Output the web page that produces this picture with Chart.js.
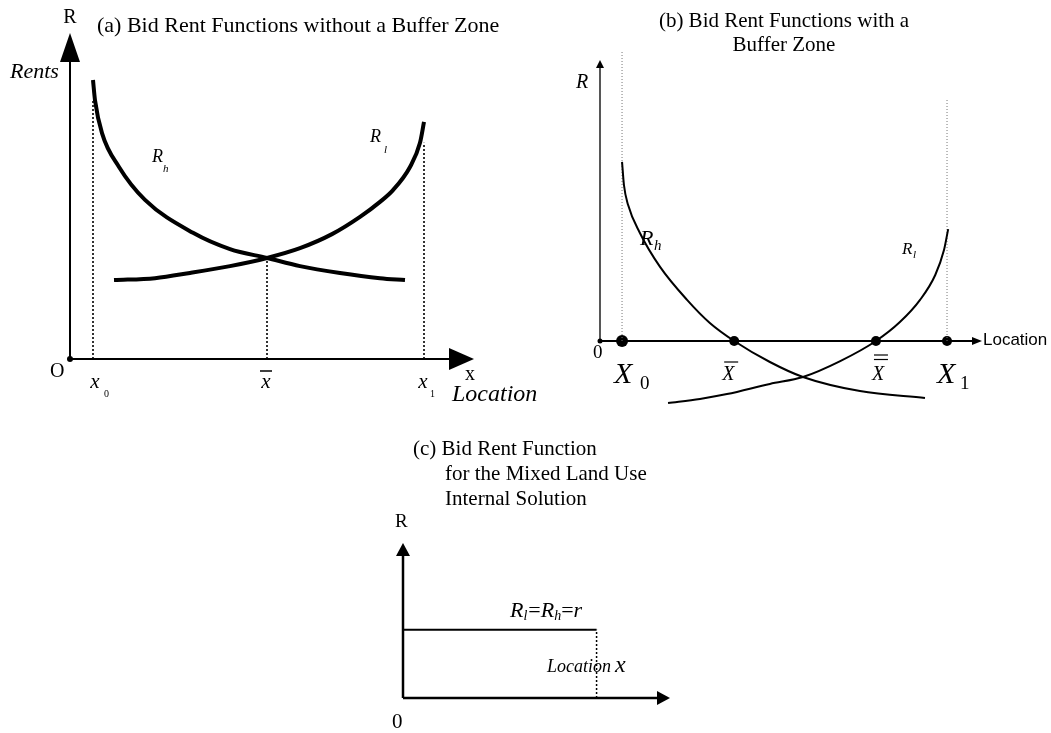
<!DOCTYPE html>
<html>
<head>
<meta charset="utf-8">
<script src="https://cdn.jsdelivr.net/npm/chart.js@4/dist/chart.umd.min.js"></script>
<style>
  body { margin: 0; background: #fff; }
  canvas { position: absolute; left: 0; top: 0; }
</style>
</head>
<body>
<canvas id="panelA" width="1051" height="733"></canvas>
<canvas id="panelB" width="1051" height="733"></canvas>
<canvas id="panelC" width="1051" height="733"></canvas>
<script>
// (a) no buffer zone: location 0..101, rent 0..100
const rhA_x = [5.75, 6.25, 8.0, 12.25, 18.75, 30.75, 40.0, 49.25, 57.5, 67.5, 77.5, 83.75];
const rhA_y = [85.6, 79.4, 69.3, 58.9, 48.8, 38.7, 33.7, 31.0, 28.5, 26.4, 24.8, 24.2];
const rlA_x = [11.0, 21.25, 30.0, 40.0, 49.25, 57.5, 65.5, 72.5, 77.5, 80.75, 85.0, 87.5, 88.5];
const rlA_y = [24.2, 24.8, 26.4, 28.5, 31.0, 34.0, 38.3, 43.6, 48.2, 51.8, 58.9, 66.3, 72.7];
const guideA_x = [5.75, 49.25, 88.5];
const guideA_top = [79.4, 31.0, 66.3];

// (b) with a buffer zone: rents drop below the axis past the crossings
const rhB_x = [5.8, 6.3, 7.4, 10.5, 15.8, 22.9, 28.9, 35.3, 44.7, 53.4, 68.4, 85.5];
const rhB_y = [59.7, 52, 45.3, 36, 24.7, 13.7, 6, 0, -7, -12, -16.7, -19];
const rlB_x = [17.9, 26.3, 33.4, 44.7, 53.4, 63.2, 72.6, 78.9, 84.2, 88.2, 90.5, 91.6];
const rlB_y = [-20.7, -19.3, -17.7, -14.3, -12, -6.7, 0, 6.3, 13.7, 22, 30.3, 37.3];
const markB_x = [0, 5.8, 35.3, 72.6, 91.3];
const guideB_x = [5.8, 91.3];
const guideB_top = [97, 81];

// (c) mixed land use: flat rent r
const rentC = 44;
const edgeC = 72.5;

const SERIF = '"Liberation Serif", "Times New Roman", serif';
const SANS = '"Liberation Sans", Arial, sans-serif';

const pts = (xs, ys) => xs.map((x, i) => ({ x: x, y: ys[i] }));

function curve(data, w) {
  return { data: data, showLine: true, borderColor: '#000', borderWidth: w,
           pointRadius: 0, cubicInterpolationMode: 'monotone', clip: false };
}

function guide(x, top, color, w, dash) {
  return { data: [{ x: x, y: 0 }, { x: x, y: top }], showLine: true, borderColor: color,
           borderWidth: w, borderDash: dash, pointRadius: 0, clip: false };
}

function txt(ctx, s, x, y, font, align) {
  ctx.font = font;
  ctx.textAlign = align || 'left';
  ctx.textBaseline = 'alphabetic';
  ctx.fillStyle = '#000';
  ctx.fillText(s, x, y);
  return ctx.measureText(s).width;
}

function line(ctx, x1, y1, x2, y2, w, color) {
  ctx.beginPath();
  ctx.moveTo(x1, y1);
  ctx.lineTo(x2, y2);
  ctx.lineWidth = w;
  ctx.strokeStyle = color || '#000';
  ctx.stroke();
}

// filled triangle head pointing from (x1,y1) to tip (x2,y2)
function arrowHead(ctx, x1, y1, x2, y2, len, half) {
  const a = Math.atan2(y2 - y1, x2 - x1);
  const bx = x2 - len * Math.cos(a), by = y2 - len * Math.sin(a);
  ctx.beginPath();
  ctx.moveTo(x2, y2);
  ctx.lineTo(bx + half * Math.sin(a), by - half * Math.cos(a));
  ctx.lineTo(bx - half * Math.sin(a), by + half * Math.cos(a));
  ctx.closePath();
  ctx.fillStyle = '#000';
  ctx.fill();
}

function makeChart(id, pad, xr, yr, datasets, axes, labels) {
  return new Chart(document.getElementById(id), {
    type: 'scatter',
    data: { datasets: datasets },
    options: {
      responsive: false,
      animation: false,
      events: [],
      layout: { padding: pad },
      plugins: { legend: { display: false }, tooltip: { enabled: false } },
      scales: {
        x: { type: 'linear', min: xr[0], max: xr[1], display: false },
        y: { type: 'linear', min: yr[0], max: yr[1], display: false }
      }
    },
    plugins: [{
      id: id + 'Deco',
      beforeDatasetsDraw(chart) { axes(chart.ctx, chart.scales.x, chart.scales.y); },
      afterDatasetsDraw(chart) { labels(chart.ctx, chart.scales.x, chart.scales.y); }
    }]
  });
}

// ---------- (a) ----------
makeChart('panelA', { left: 70, right: 577, top: 33, bottom: 374 }, [0, 101], [0, 100],
  [
    curve(pts(rhA_x, rhA_y), 4),
    curve(pts(rlA_x, rlA_y), 4),
    ...guideA_x.map((x, i) => guide(x, guideA_top[i], '#000', 1.6, [2, 2]))
  ],
  (ctx, X, Y) => {
    const ox = X.getPixelForValue(0), oy = Y.getPixelForValue(0);
    const tipY = Y.getPixelForValue(100), tipX = X.getPixelForValue(101);
    line(ctx, ox, oy, ox, tipY + 20, 2);
    line(ctx, ox, oy, tipX - 20, oy, 2);
    arrowHead(ctx, ox, oy, ox, tipY, 29, 10);
    arrowHead(ctx, ox, oy, tipX, oy, 25, 11);
    ctx.beginPath(); ctx.arc(ox, oy, 3, 0, Math.PI * 2); ctx.fillStyle = '#000'; ctx.fill();
  },
  (ctx, X, Y) => {
    txt(ctx, 'R', 70, 23, '20px ' + SERIF, 'center');
    txt(ctx, '(a) Bid Rent Functions without a Buffer Zone', 97, 32, '22px ' + SERIF);
    txt(ctx, 'Rents', 10, 78, 'italic 22px ' + SERIF);
    txt(ctx, 'R', 152, 162, 'italic 18px ' + SERIF);
    txt(ctx, 'h', 163, 172, 'italic 11px ' + SERIF);
    txt(ctx, 'R', 370, 142, 'italic 18px ' + SERIF);
    txt(ctx, 'l', 384, 153, 'italic 11px ' + SERIF);
    txt(ctx, 'O', 50, 377, '20px ' + SERIF);
    const g = guideA_x.map(v => X.getPixelForValue(v));
    txt(ctx, 'x', g[0] + 2, 388, 'italic 21px ' + SERIF, 'center');
    txt(ctx, '0', g[0] + 11, 397, '10px ' + SERIF);
    txt(ctx, 'x', g[1] - 1, 388, 'italic 21px ' + SERIF, 'center');
    line(ctx, g[1] - 7, 371, g[1] + 5, 371, 1.5);
    txt(ctx, 'x', g[2] - 1, 388, 'italic 21px ' + SERIF, 'center');
    txt(ctx, '1', g[2] + 6, 397, '10px ' + SERIF);
    txt(ctx, 'x', 465, 380, '20px ' + SERIF);
    txt(ctx, 'Location', 452, 401, 'italic 24px ' + SERIF);
  });

// ---------- (b) ----------
makeChart('panelB', { left: 600, right: 69, top: 50, bottom: 323 }, [0, 100.5], [-23, 97],
  [
    curve(pts(rhB_x, rhB_y), 2),
    curve(pts(rlB_x, rlB_y), 2),
    ...guideB_x.map((x, i) => guide(x, guideB_top[i], '#777', 1, [1, 2])),
    { data: markB_x.map(x => ({ x: x, y: 0 })), showLine: false, clip: false,
      pointRadius: [2.5, 6, 5, 5, 5], pointBackgroundColor: '#000', pointBorderWidth: 0 }
  ],
  (ctx, X, Y) => {
    const ox = X.getPixelForValue(0), oy = Y.getPixelForValue(0);
    const tipY = Y.getPixelForValue(93.7), tipX = X.getPixelForValue(100.5);
    line(ctx, ox, oy, ox, tipY + 6, 1.8, '#444');
    line(ctx, ox, oy, tipX - 8, oy, 2);
    arrowHead(ctx, ox, oy, ox, tipY, 8, 4);
    arrowHead(ctx, ox, oy, tipX, oy, 10, 4);
  },
  (ctx, X, Y) => {
    txt(ctx, '(b) Bid Rent Functions with a', 784, 27, '21px ' + SERIF, 'center');
    txt(ctx, 'Buffer Zone', 784, 51, '21px ' + SERIF, 'center');
    txt(ctx, 'R', 576, 88, 'italic 20px ' + SERIF);
    txt(ctx, '0', 593, 358, '19px ' + SERIF);
    const m = markB_x.map(v => X.getPixelForValue(v));
    txt(ctx, 'X', m[1] - 8, 383, 'italic 30px ' + SERIF);
    txt(ctx, '0', m[1] + 18, 389, '19px ' + SERIF);
    txt(ctx, 'X', m[2] - 12, 380, 'italic 20px ' + SERIF);
    line(ctx, m[2] - 10, 362, m[2] + 4, 362, 1.2);
    txt(ctx, 'X', m[3] - 4, 380, 'italic 20px ' + SERIF);
    line(ctx, m[3] - 2, 355, m[3] + 12, 355, 1.2);
    line(ctx, m[3] - 2, 359.5, m[3] + 12, 359.5, 1.2);
    txt(ctx, 'X', m[4] - 10, 383, 'italic 30px ' + SERIF);
    txt(ctx, '1', m[4] + 13, 389, '19px ' + SERIF);
    txt(ctx, 'Location', 983, 345, '17px ' + SANS);
    txt(ctx, 'R', 640, 245, 'italic 22px ' + SERIF);
    txt(ctx, 'h', 654, 250, 'italic 15px ' + SERIF);
    txt(ctx, 'R', 902, 254, 'italic 17px ' + SERIF);
    txt(ctx, 'l', 913, 258, 'italic 11px ' + SERIF);
  });

// ---------- (c) ----------
makeChart('panelC', { left: 403, right: 381, top: 543, bottom: 35 }, [0, 100], [0, 100],
  [
    curve([{ x: 0, y: rentC }, { x: edgeC, y: rentC }], 2),
    guide(edgeC, rentC, '#000', 1.5, [2, 2])
  ],
  (ctx, X, Y) => {
    const ox = X.getPixelForValue(0), oy = Y.getPixelForValue(0);
    const tipY = Y.getPixelForValue(100), tipX = X.getPixelForValue(100);
    line(ctx, ox, oy, ox, tipY + 10, 2.5);
    line(ctx, ox, oy, tipX - 10, oy, 2.5);
    arrowHead(ctx, ox, oy, ox, tipY, 13, 7);
    arrowHead(ctx, ox, oy, tipX, oy, 13, 7);
  },
  (ctx, X, Y) => {
    txt(ctx, '(c) Bid Rent Function', 413, 455, '21px ' + SERIF);
    txt(ctx, 'for the Mixed Land Use', 445, 480, '21px ' + SERIF);
    txt(ctx, 'Internal Solution', 445, 505, '21px ' + SERIF);
    txt(ctx, 'R', 395, 527, '19px ' + SERIF);
    txt(ctx, '0', 392, 728, '21px ' + SERIF);
    let x = 510;
    x += txt(ctx, 'R', x, 617, 'italic 22px ' + SERIF);
    x += txt(ctx, 'l', x, 620, 'italic 14px ' + SERIF) + 1;
    x += txt(ctx, '=', x, 617, '22px ' + SERIF);
    x += txt(ctx, 'R', x, 617, 'italic 22px ' + SERIF);
    x += txt(ctx, 'h', x, 620, 'italic 14px ' + SERIF);
    x += txt(ctx, '=', x, 617, '22px ' + SERIF);
    txt(ctx, 'r', x, 617, 'italic 22px ' + SERIF);
    txt(ctx, 'Location', 547, 672, 'italic 18px ' + SERIF);
    txt(ctx, 'x', 615, 672, 'italic 24px ' + SERIF);
  });
</script>
</body>
</html>
